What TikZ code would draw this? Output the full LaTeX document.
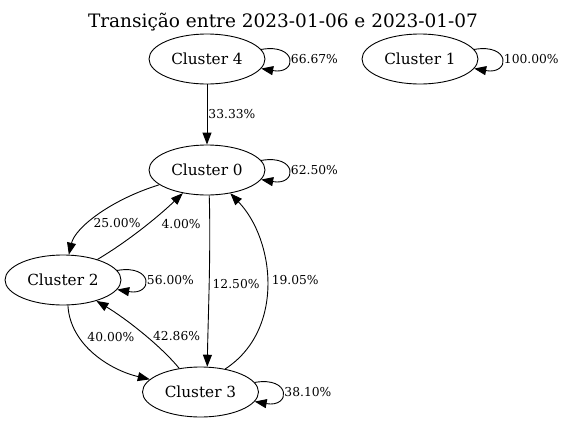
\documentclass[tikz,border=0pt]{standalone}
\usepackage{fontspec}
\setmainfont{DejaVu Serif}
\usetikzlibrary{shapes.geometric,arrows.meta}

\begin{document}
\begin{tikzpicture}[->,>={Triangle[length=12pt,width=9pt]},x=1pt,y=1pt,line width=0.9pt,
    state/.style={ellipse,draw,minimum width=116pt,minimum height=50pt,inner sep=0pt,font=\fontsize{15.3}{17}\selectfont},
    lbl/.style={font=\fontsize{12.3}{14}\selectfont,inner sep=1pt},
    selfloop/.style={loop,out=10,in=-10,distance=37pt}]

    \useasboundingbox (0,0) rectangle (566,-421);

    % The title
    \node [anchor=base,font=\fontsize{18.5}{21}\selectfont] at (283,-27) (title) {Transição entre 2023-01-06 e 2023-01-07};

    % The clusters
    \node [state] at (207,-59) (c4) {Cluster 4};
    \node [state] at (420,-59) (c1) {Cluster 1};
    \node [state] at (207,-170) (c0) {Cluster 0};
    \node [state] at (63,-280) (c2) {Cluster 2};
    \node [state] at (200.5,-392) (c3) {Cluster 3};

    % Self loops
    \path[->]
    (c4) edge [selfloop] node [lbl,right=1pt] {66.67\%} (c4)
    (c1) edge [selfloop] node [lbl,right=1pt] {100.00\%} (c1)
    (c0) edge [selfloop] node [lbl,right=1pt] {62.50\%} (c0)
    (c2) edge [selfloop] node [lbl,right=1pt] {56.00\%} (c2)
    (c3) edge [selfloop] node [lbl,right=1pt] {38.10\%} (c3);

    % Transitions between clusters
    \path[->]
    (c4) edge node [lbl,right=0pt] {33.33\%} (c0);

    \draw (c0) .. controls (110,-200) and (75,-228) .. (c2)
        node [lbl,pos=0.6,right=3pt] {25.00\%};
    \draw (c2) .. controls (130,-240) and (160,-215) .. (c0)
        node [lbl,pos=0.55,right=12pt] {4.00\%};
    \draw (c0.-85) .. controls (211,-250) and (208,-320) .. (c3.75)
        node [lbl,pos=0.5,right=2pt] {12.50\%};
    \draw (c3.43) .. controls (285,-330) and (275,-240) .. (c0.-45)
        node [lbl,pos=0.52,right=3.5pt] {19.05\%};
    \draw (c2.-79) .. controls (70,-345) and (110,-370) .. (c3.166)
        node [lbl,pos=0.3,right=7pt] {40.00\%};
    \draw (c3.132) .. controls (160,-345) and (125,-318) .. (c2.-32)
        node [lbl,pos=0.45,right=6pt] {42.86\%};
\end{tikzpicture}
\end{document}
